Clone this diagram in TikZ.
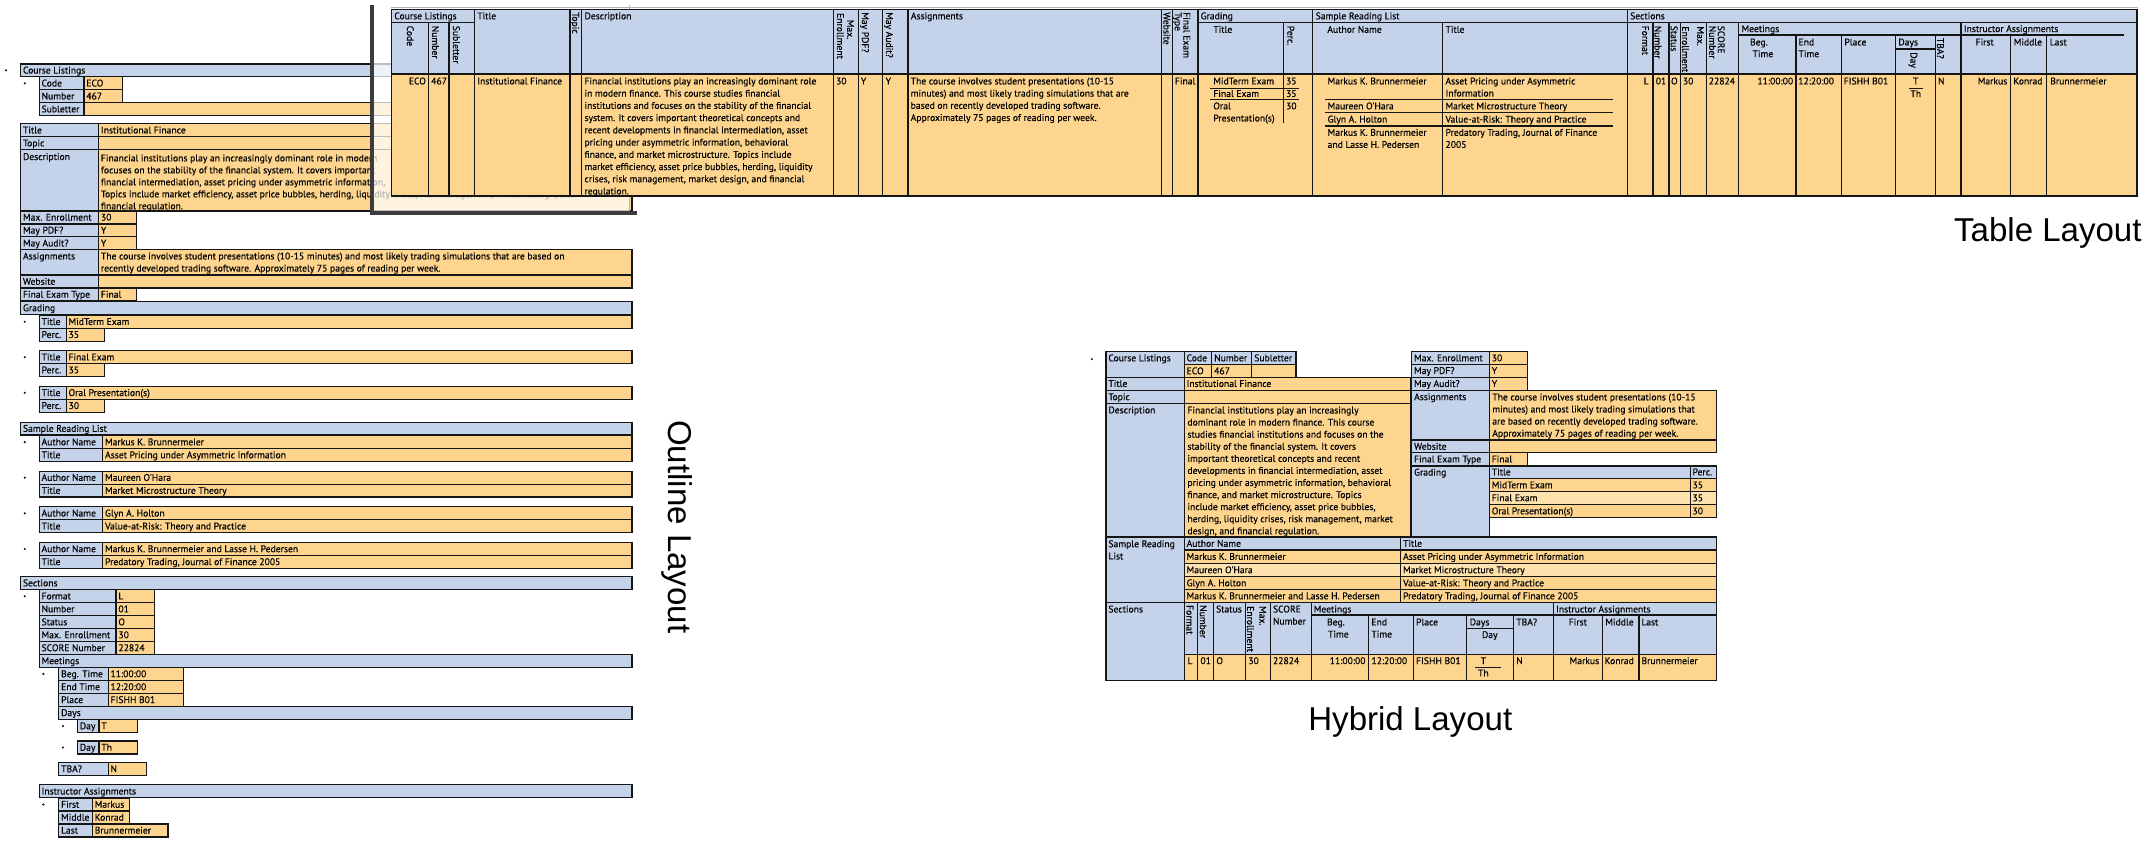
\documentclass[tikz,border=0pt]{standalone}
\usepackage{fontspec}
\newfontfamily\ptsans{PT Sans}[FakeBold=0.25]
\newfontfamily\lsans{Liberation Sans}
\newcommand\tfont{\ptsans\fontsize{7.0}{8.8}\selectfont}
\newcommand\bigfontx{\lsans\fontsize{24}{28}\selectfont}
\definecolor{hb}{RGB}{197,211,234}
\definecolor{ho}{RGB}{254,213,143}
\definecolor{hol}{RGB}{254,226,174}
\definecolor{lc}{RGB}{22,22,22}
\definecolor{shc}{RGB}{60,60,60}
\newcounter{nc}
\newcommand\mtx[3]{\stepcounter{nc}\node[txt] (t\arabic{nc}) at (#1,#2) {#3};}
\newcommand\mtr[3]{\stepcounter{nc}\node[txt,anchor=base east] (t\arabic{nc}) at (#1,#2) {#3};}
\newcommand\mtc[3]{\stepcounter{nc}\node[txt,anchor=base] (t\arabic{nc}) at (#1,#2) {#3};}
\newcommand\mrt[3]{\stepcounter{nc}\node[txt,rotate=-90] (t\arabic{nc}) at (#1,#2) {#3};}
\newcommand\mpara[4]{\foreach \lnx [count=\ii from 0] in {#4} {\mtx{#1}{#2+\ii*#3}{\lnx}}}
\newcommand\mcb[4]{\filldraw[cellb] (#1,#2) rectangle (#3,#4);}
\newcommand\mco[4]{\filldraw[cello] (#1,#2) rectangle (#3,#4);}
\newcommand\mcol[4]{\filldraw[cellol] (#1,#2) rectangle (#3,#4);}
% left, split, right, top, bottom, label, value
\newcommand\morow[7]{\mcb{#1}{#4}{#2}{#5}\mco{#2}{#4}{#3}{#5}\mtx{#1+1.5}{#4+7}{#6}\mtx{#2+1.5}{#4+7}{#7}}
% left, right, top, bottom, text
\newcommand\mobar[5]{\mcb{#1}{#3}{#2}{#4}\mtx{#1+1.5}{#3+7}{#5}}
\newcommand\mdot[2]{\fill[lc] (#1,#2) circle (0.85);}
\begin{document}
\begin{tikzpicture}[x=1pt,y=-1pt,
  ln/.style={draw=lc,line width=0.9pt},
  cellb/.style={fill=hb,draw=lc,line width=0.9pt},
  cello/.style={fill=ho,draw=lc,line width=0.9pt},
  cellol/.style={fill=hol,draw=lc,line width=0.9pt},
  txt/.style={font=\tfont,inner sep=0pt,anchor=base west,text=black},
  big/.style={font=\bigfontx,inner sep=0pt,anchor=base west,text=black}]
\useasboundingbox (0,0) rectangle (1560,612.2);
\fill[white] (0,0) rectangle (1560,612.2);

%================ OUTLINE LAYOUT ================
\mdot{4.4}{51.1}
\mobar{15}{459}{46.4}{55.8}{Course Listings}
\mdot{18}{60.5}
\morow{28.5}{61}{88.8}{55.8}{65.2}{Code}{ECO}
\morow{28.5}{61}{88.8}{65.2}{74.6}{Number}{467}
\morow{28.5}{61}{459}{74.6}{84}{Subletter}{}
\morow{15}{71.6}{459}{89.9}{99.3}{Title}{Institutional Finance}
\morow{15}{71.6}{459}{99.3}{108.7}{Topic}{}
\mcb{15}{108.7}{71.6}{153.2}\mco{71.6}{108.7}{459}{153.2}
\mtx{16.5}{116.2}{Description}
\begin{scope}[even odd rule]
\clip (0,0) rectangle (1560,612.2) (284.5,6.8) rectangle (1552,142.4);
\mpara{73.1}{117.2}{8.7}{{Financial institutions play an increasingly dominant role in modern},{focuses on the stability of the financial system. It covers important},{financial intermediation, asset pricing under asymmetric information,},{Topics include market efficiency, asset price bubbles, herding, liquidity crises, risk management, market design, and},{financial regulation.}}
\end{scope}
\morow{15}{71.6}{99.4}{153.2}{162.6}{Max. Enrollment}{30}
\morow{15}{71.6}{99.4}{162.6}{172}{May PDF?}{Y}
\morow{15}{71.6}{99.4}{172}{181.4}{May Audit?}{Y}
\mcb{15}{181.4}{71.6}{199.8}\mco{71.6}{181.4}{459}{199.8}
\mtx{16.5}{188.4}{Assignments}
\mpara{73.1}{188.4}{8.8}{{The course involves student presentations (10-15 minutes) and most likely trading simulations that are based on},{recently developed trading software. Approximately 75 pages of reading per week.}}
\morow{15}{71.6}{459}{199.8}{209.2}{Website}{}
\morow{15}{71.6}{99.4}{209.2}{218.6}{Final Exam Type}{Final}
\mobar{15}{459}{219}{228.4}{Grading}
\mdot{18}{233.7}
\morow{28.5}{48.1}{459}{229}{238.4}{Title}{MidTerm Exam}
\morow{28.5}{48.1}{76.1}{238.4}{247.8}{Perc.}{35}
\mdot{18}{259.4}
\morow{28.5}{48.1}{459}{254.7}{264.1}{Title}{Final Exam}
\morow{28.5}{48.1}{76.1}{264.1}{273.5}{Perc.}{35}
\mdot{18}{285.3}
\morow{28.5}{48.1}{459}{280.6}{290}{Title}{Oral Presentation(s)}
\morow{28.5}{48.1}{76.1}{290}{299.4}{Perc.}{30}
\mobar{15}{459}{306.6}{316}{Sample Reading List}
\mdot{18}{321.1}
\morow{28.5}{74.6}{459}{316.4}{325.8}{Author Name}{Markus K. Brunnermeier}
\morow{28.5}{74.6}{459}{325.8}{335.2}{Title}{Asset Pricing under Asymmetric Information}
\mdot{18}{346.9}
\morow{28.5}{74.6}{459}{342.2}{351.6}{Author Name}{Maureen O'Hara}
\morow{28.5}{74.6}{459}{351.6}{361}{Title}{Market Microstructure Theory}
\mdot{18}{372.8}
\morow{28.5}{74.6}{459}{368.1}{377.5}{Author Name}{Glyn A. Holton}
\morow{28.5}{74.6}{459}{377.5}{386.9}{Title}{Value-at-Risk: Theory and Practice}
\mdot{18}{398.7}
\morow{28.5}{74.6}{459}{394}{403.4}{Author Name}{Markus K. Brunnermeier and Lasse H. Pedersen}
\morow{28.5}{74.6}{459}{403.4}{412.8}{Title}{Predatory Trading, Journal of Finance 2005}
\mobar{15}{459}{418.8}{428.2}{Sections}
\mdot{18}{433}
\morow{28.5}{84.3}{112.3}{428.3}{437.7}{Format}{L}
\morow{28.5}{84.3}{112.3}{437.7}{447.1}{Number}{01}
\morow{28.5}{84.3}{112.3}{447.1}{456.5}{Status}{O}
\morow{28.5}{84.3}{112.3}{456.5}{465.9}{Max. Enrollment}{30}
\morow{28.5}{84.3}{112.3}{465.9}{475.3}{SCORE Number}{22824}
\mobar{28.5}{459}{475.3}{484.7}{Meetings}
\mdot{31.5}{489.5}
\morow{42.7}{78.6}{133.4}{484.8}{494.2}{Beg. Time}{11:00:00}
\morow{42.7}{78.6}{133.4}{494.2}{503.6}{End Time}{12:20:00}
\morow{42.7}{78.6}{133.4}{503.6}{513}{Place}{FISHH B01}
\mobar{42.7}{459}{513}{522.4}{Days}
\mdot{45.7}{527.3}
\morow{56.3}{71.9}{100}{522.6}{532}{Day}{T}
\mdot{45.7}{542.9}
\morow{56.3}{71.9}{100}{538.2}{547.6}{Day}{Th}
\morow{42.7}{78.6}{106.3}{553.8}{563.2}{TBA?}{N}
\mobar{28.5}{459}{570}{579.4}{Instructor Assignments}
\mdot{31.5}{584.3}
\morow{42.7}{67.1}{94.2}{579.6}{589}{First}{Markus}
\morow{42.7}{67.1}{94.2}{589}{598.4}{Middle}{Konrad}
\morow{42.7}{67.1}{122}{598.4}{607.8}{Last}{Brunnermeier}

%================ OVERLAY PANE ================
\fill[white,opacity=0.72] (271.5,0) rectangle (457,153.3);
\draw[gray!55,line width=0.6pt] (457,3.6) -- (457,153.3);
\draw[shc,line width=2.6pt] (270.2,3.6) -- (270.2,154.5) -- (462.5,154.5);

%================ TABLE LAYOUT ================
\fill[hb] (284.5,6.8) rectangle (1552,53.7);
\fill[ho] (284.5,53.7) rectangle (1552,142.4);
\foreach \x in {344.5,414,422.5,605.2,623.4,641,659.4,843.3,851.3,870,953.4,1181.8}
  \draw[ln] (\x,6.8) -- (\x,142.4);
\foreach \x in {311.1,326.1,1047.8,1200.4,1212.1,1220.7,1239.5,1262.7,1424.1}
  \draw[ln] (\x,16.5) -- (\x,142.4);
\foreach \x in {1304.3,1337.3,1376.6,1405.8,1460.3,1486.5}
  \draw[ln] (\x,25.4) -- (\x,142.4);
\draw[ln] (932.3,16.5) -- (932.3,89);
\draw[ln] (284.5,16.5) -- (344.5,16.5);
\draw[ln] (870,16.5) -- (1552,16.5);
\draw[ln] (1262.7,25.4) -- (1542.2,25.4);
\draw[ln] (1376.6,35.6) -- (1405.8,35.6);
\draw[ln,line width=1.1pt] (878.9,64.2) -- (943.2,64.2);
\draw[ln,line width=1.1pt] (878.9,72.3) -- (943.2,72.3);
\draw[ln,line width=1.1pt] (962.3,72.2) -- (1171.7,72.2);
\draw[ln,line width=1.1pt] (962.3,81.8) -- (1171.7,81.8);
\draw[ln,line width=1.1pt] (962.3,91.5) -- (1171.7,91.5);
\draw[ln] (1386.4,64.1) -- (1396.6,64.1);
\draw[gray!60,line width=0.8pt] (283.6,5.5) -- (1553,5.5);
\draw[ln] (284.5,6.8) rectangle (1552,142.4);
\draw[ln,line width=1.8pt] (284.5,53.7) -- (1552,53.7);
% header texts
\mtx{286.2}{14}{Course Listings}
\mrt{295.5}{18.5}{Code}
\mrt{313.8}{18.5}{Number}
\mrt{329}{18.5}{Subletter}
\mtx{346.4}{14}{Title}
\mrt{415.6}{8.7}{Topic}
\mtx{424.3}{14}{Description}
\mrt{615.2}{14.2}{Max.}
\mrt{607.9}{9.3}{Enrollment}
\mrt{626}{8.7}{May PDF?}
\mrt{643.5}{8.7}{May Audit?}
\mtx{661.3}{14}{Assignments}
\mrt{845}{8.7}{Website}
\mrt{859.5}{8.7}{Final Exam}
\mrt{853.2}{8.7}{Type}
\mtx{871.8}{14}{Grading}
\mtx{881}{23.8}{Title}
\mrt{935}{18.5}{Perc.}
\mtx{955.3}{14}{Sample Reading List}
\mtx{963.8}{23.8}{Author Name}
\mtx{1049.6}{23.8}{Title}
\mtx{1183.7}{14}{Sections}
\mrt{1192.6}{18.5}{Format}
\mrt{1201.6}{18.5}{Number}
\mrt{1213.4}{18.5}{Status}
\mrt{1232.5}{19}{Max.}
\mrt{1221.6}{19}{Enrollment}
\mrt{1247.6}{18.5}{SCORE}
\mrt{1241.3}{18.5}{Number}
\mtx{1264.6}{23.3}{Meetings}
\mtx{1270.8}{33}{Beg.}
\mtx{1272.6}{41.5}{Time}
\mtx{1306}{33}{End}
\mtx{1306}{41.5}{Time}
\mtx{1339.3}{33}{Place}
\mtx{1378.5}{33}{Days}
\mrt{1387.5}{37.8}{Day}
\mrt{1406.8}{27.3}{TBA?}
\mtx{1426}{23.3}{Instructor Assignments}
\mtx{1434.6}{33}{First}
\mtx{1462.3}{33}{Middle}
\mtx{1488.5}{33}{Last}
% body texts
\mtr{309.5}{61.3}{ECO}
\mtx{313}{61.3}{467}
\mtx{346.4}{61.3}{Institutional Finance}
\mpara{424.3}{61.3}{8.88}{{Financial institutions play an increasingly dominant role},{in modern finance. This course studies financial},{institutions and focuses on the stability of the financial},{system. It covers important theoretical concepts and},{recent developments in financial intermediation, asset},{pricing under asymmetric information, behavioral},{finance, and market microstructure. Topics include},{market efficiency, asset price bubbles, herding, liquidity},{crises, risk management, market design, and financial},{regulation.}}
\mtx{607}{61.3}{30}
\mtx{625}{61.3}{Y}
\mtx{643}{61.3}{Y}
\mpara{661.2}{61.3}{8.85}{{The course involves student presentations (10-15},{minutes) and most likely trading simulations that are},{based on recently developed trading software.},{Approximately 75 pages of reading per week.}}
\mtx{853.1}{61.3}{Final}
\mtx{881}{61.3}{MidTerm Exam}
\mtx{933.8}{61.3}{35}
\mtx{881}{70.4}{Final Exam}
\mtx{933.8}{70.4}{35}
\mtx{881}{79.4}{Oral}
\mtx{881}{88.2}{Presentation(s)}
\mtx{933.8}{79.4}{30}
\mtx{964}{61.3}{Markus K. Brunnermeier}
\mtx{1049.6}{61.3}{Asset Pricing under Asymmetric}
\mtx{1049.6}{70.1}{Information}
\mtx{964}{79.4}{Maureen O'Hara}
\mtx{1049.6}{79.4}{Market Microstructure Theory}
\mtx{964}{89}{Glyn A. Holton}
\mtx{1049.6}{89}{Value-at-Risk: Theory and Practice}
\mtx{964}{98.6}{Markus K. Brunnermeier}
\mtx{964}{107.4}{and Lasse H. Pedersen}
\mtx{1049.6}{98.6}{Predatory Trading, Journal of Finance}
\mtx{1049.6}{107.4}{2005}
\mtr{1197.5}{61.3}{L}
\mtx{1202.3}{61.3}{01}
\mtx{1213.4}{61.3}{O}
\mtx{1222}{61.3}{30}
\mtx{1240.8}{61.3}{22824}
\mtr{1302.5}{61.3}{11:00:00}
\mtx{1305.8}{61.3}{12:20:00}
\mtx{1338.8}{61.3}{FISHH B01}
\mtc{1391.3}{61.3}{T}
\mtc{1391.3}{70.5}{Th}
\mtx{1407.3}{61.3}{N}
\mtr{1458}{61.3}{Markus}
\mtx{1462}{61.3}{Konrad}
\mtx{1488.8}{61.3}{Brunnermeier}

%================ HYBRID LAYOUT ================
\mdot{793}{260.8}
\mcb{803.3}{255.4}{860}{274}
\mtx{804.8}{262.4}{Course Listings}
\mcb{860}{255.4}{880}{264.6}\mcb{880}{255.4}{909.1}{264.6}\mcb{909.1}{255.4}{941.3}{264.6}
\mco{860}{264.6}{880}{274}\mco{880}{264.6}{909.1}{274}\mco{909.1}{264.6}{941.3}{274}
\mtx{861.6}{262.4}{Code}\mtx{881.6}{262.4}{Number}\mtx{910.7}{262.4}{Subletter}
\mtx{861.6}{271.8}{ECO}\mtx{881.6}{271.8}{467}
\morow{803.3}{860}{1024.8}{274}{283.6}{Title}{Institutional Finance}
\morow{803.3}{860}{1024.8}{283.6}{293.2}{Topic}{}
\mcb{803.3}{293.2}{860}{390}\mco{860}{293.2}{1024.8}{390}
\mtx{804.8}{300.2}{Description}
\mpara{862.2}{300.3}{8.77}{{Financial institutions play an increasingly},{dominant role in modern finance. This course},{studies financial institutions and focuses on the},{stability of the financial system. It covers},{important theoretical concepts and recent},{developments in financial intermediation, asset},{pricing under asymmetric information, behavioral},{finance, and market microstructure. Topics},{include market efficiency, asset price bubbles,},{herding, liquidity crises, risk management, market},{design, and financial regulation.}}
\morow{1025.3}{1081.7}{1109.3}{255.4}{264.6}{Max. Enrollment}{30}
\morow{1025.3}{1081.7}{1109.3}{264.6}{274}{May PDF?}{Y}
\morow{1025.3}{1081.7}{1109.3}{274}{283.6}{May Audit?}{Y}
\mcb{1025.3}{283.6}{1081.7}{319.6}\mco{1081.7}{283.6}{1246.5}{319.6}
\mtx{1026.8}{290.6}{Assignments}
\mpara{1083.6}{290.8}{8.77}{{The course involves student presentations (10-15},{minutes) and most likely trading simulations that},{are based on recently developed trading software.},{Approximately 75 pages of reading per week.}}
\morow{1025.3}{1081.7}{1246.5}{319.6}{328.8}{Website}{}
\morow{1025.3}{1081.7}{1109.3}{328.8}{338.4}{Final Exam Type}{Final}
\mcb{1025.3}{338.4}{1081.7}{390}
\mtx{1026.8}{345.4}{Grading}
\mcb{1081.7}{338.4}{1227.5}{347.5}\mcb{1227.5}{338.4}{1246.5}{347.5}
\mco{1081.7}{347.5}{1227.5}{357.2}\mco{1227.5}{347.5}{1246.5}{357.2}
\mcol{1081.7}{357.2}{1227.5}{366.4}\mcol{1227.5}{357.2}{1246.5}{366.4}
\mco{1081.7}{366.4}{1227.5}{376.1}\mco{1227.5}{366.4}{1246.5}{376.1}
\mtx{1083.2}{345.2}{Title}\mtx{1229}{345.2}{Perc.}
\mtx{1083.2}{354.6}{MidTerm Exam}\mtx{1229}{354.6}{35}
\mtx{1083.2}{364}{Final Exam}\mtx{1229}{364}{35}
\mtx{1083.2}{373.5}{Oral Presentation(s)}\mtx{1229}{373.5}{30}
% sample reading list
\mcb{803.3}{390}{860}{437.5}
\mtx{804.8}{397.4}{Sample Reading}
\mtx{804.8}{406.3}{List}
\mcb{860}{390}{1017.3}{399.5}\mcb{1017.3}{390}{1246.5}{399.5}
\mco{860}{399.5}{1017.3}{409.2}\mco{1017.3}{399.5}{1246.5}{409.2}
\mcol{860}{409.2}{1017.3}{418.9}\mcol{1017.3}{409.2}{1246.5}{418.9}
\mco{860}{418.9}{1017.3}{428.3}\mco{1017.3}{418.9}{1246.5}{428.3}
\mco{860}{428.3}{1017.3}{437.5}\mco{1017.3}{428.3}{1246.5}{437.5}
\mtx{861.6}{397.1}{Author Name}\mtx{1018.8}{397.1}{Title}
\mtx{861.6}{406.6}{Markus K. Brunnermeier}\mtx{1018.8}{406.6}{Asset Pricing under Asymmetric Information}
\mtx{861.6}{416.3}{Maureen O'Hara}\mtx{1018.8}{416.3}{Market Microstructure Theory}
\mtx{861.6}{425.8}{Glyn A. Holton}\mtx{1018.8}{425.8}{Value-at-Risk: Theory and Practice}
\mtx{861.6}{435.2}{Markus K. Brunnermeier and Lasse H. Pedersen}\mtx{1018.8}{435.2}{Predatory Trading, Journal of Finance 2005}
% sections
\mcb{803.3}{437.5}{860}{494.4}
\mtx{804.8}{444.8}{Sections}
\fill[hb] (860,437.5) rectangle (1246.5,475.2);
\fill[ho] (860,475.2) rectangle (1246.5,494.4);
\foreach \x in {869.6,881.2,904.7,922.9,952.2,1128.2}
  \draw[ln] (\x,437.5) -- (\x,494.4);
\foreach \x in {993.8,1026.5,1064.8,1099.1,1163.8,1190.4}
  \draw[ln] (\x,446.7) -- (\x,494.4);
\draw[ln] (952.2,446.7) -- (1246.5,446.7);
\draw[ln] (1064.8,456.4) -- (1099.1,456.4);
\draw[ln] (860,475.2) -- (1246.5,475.2);
\draw[ln] (860,437.5) rectangle (1246.5,494.4);
\draw[ln] (1071.3,485) -- (1089.9,485);
\mrt{861.7}{439.3}{Format}
\mrt{871.4}{439.3}{Number}
\mtx{883}{444.8}{Status}
\mrt{914.7}{440}{Max.}
\mrt{905.7}{440}{Enrollment}
\mtx{924.3}{444.8}{SCORE}
\mtx{924.3}{453.6}{Number}
\mtx{953.9}{444.8}{Meetings}
\mtx{963.6}{454.2}{Beg.}
\mtx{964.3}{463}{Time}
\mtx{995.8}{454.2}{End}
\mtx{995.8}{463}{Time}
\mtx{1028.2}{454.2}{Place}
\mtx{1067.2}{454.2}{Days}
\mtx{1076.1}{463.4}{Day}
\mtx{1101}{454.2}{TBA?}
\mtx{1129.9}{444.8}{Instructor Assignments}
\mtx{1139.1}{454.2}{First}
\mtx{1165.7}{454.2}{Middle}
\mtx{1191.9}{454.2}{Last}
\mtx{862.2}{482.3}{L}
\mtx{871.6}{482.3}{01}
\mtx{883.2}{482.3}{O}
\mtx{906.4}{482.3}{30}
\mtx{924.3}{482.3}{22824}
\mtr{991.9}{482.3}{11:00:00}
\mtx{995.8}{482.3}{12:20:00}
\mtx{1028.2}{482.3}{FISHH B01}
\mtc{1077.3}{482.3}{T}
\mtc{1077.3}{491.2}{Th}
\mtx{1101}{482.3}{N}
\mtr{1161.6}{482.3}{Markus}
\mtx{1165.2}{482.3}{Konrad}
\mtx{1191.9}{482.3}{Brunnermeier}

%================ LABELS ================
\node[big] (lblTable) at (1419,175.5) {Table Layout};
\node[big] (lblHybrid) at (950,530.5) {Hybrid Layout};
\node[big,rotate=-90] (lblOutline) at (485.8,305) {Outline Layout};
\end{tikzpicture}
\end{document}
